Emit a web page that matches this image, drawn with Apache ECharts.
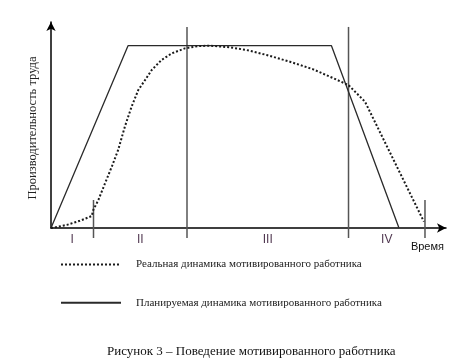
<!DOCTYPE html>
<html><head><meta charset="utf-8">
<script src="https://cdn.jsdelivr.net/npm/echarts@6/dist/echarts.min.js"></script>
<style>html,body{margin:0;padding:0;background:#fff}#c{width:464px;height:363px}</style>
</head><body><div id="c"></div>
<script>
// Planned dynamics (time, productivity)
var plannedX = [0, 19.5, 71.0, 88.1];
var plannedY = [0, 88.5, 88.5, 0];
// Real dynamics (time, productivity)
var realX = [0, 0.6, 4.0, 7.3, 10.3, 10.7, 12.0, 13.7, 15.4, 17.0, 18.7, 20.4, 22.1, 23.8, 25.5, 28.0, 30.6, 33.9, 37.2, 40.3, 45.3, 49.5, 54.6, 60.5, 66.4, 71.5, 75.3, 79.5, 94.4];
var realY = [0, 0.15, 1.5, 3.5, 5.8, 8.7, 13.6, 21.8, 29.8, 37.9, 49.2, 58.9, 67.0, 71.8, 76.7, 81.6, 84.8, 87.2, 88.3, 88.5, 87.7, 86.4, 84.0, 80.7, 77.0, 72.7, 69.4, 61.3, 3.1];
// Phase boundaries
var boundaryX = [10.76, 34.43, 75.32, 94.68];
var boundaryTop = [13.6, 97.6, 97.6, 13.6];
var boundaryBottom = -4.85;
var phaseLabels = ['I', 'II', 'III', 'IV'];
var seriesNames = ['Реальная динамика мотивированного работника', 'Планируемая динамика мотивированного работника'];
var yAxisName = 'Производительность труда';
var xAxisName = 'Время';
var caption = 'Рисунок 3 – Поведение мотивированного работника';

function zip(a, b) { return a.map(function (v, i) { return [v, b[i]]; }); }

var edges = [0].concat(boundaryX);
var labelData = phaseLabels.map(function (t, i) {
  return { value: [(edges[i] + edges[i + 1]) / 2, -5.8], name: t };
});

var series = [
  {
    name: seriesNames[0], type: 'line', data: zip(realX, realY), showSymbol: false, symbol: 'none',
    itemStyle: { color: '#1a1a1a' },
    lineStyle: { color: '#1a1a1a', width: 2, type: [2, 2] }, clip: false, silent: true, z: 3
  },
  {
    name: seriesNames[1], type: 'line', data: zip(plannedX, plannedY), showSymbol: false, symbol: 'none',
    itemStyle: { color: '#2a2a2a' },
    lineStyle: { color: '#2a2a2a', width: 1.3 }, clip: false, silent: true, z: 2
  }
];
boundaryX.forEach(function (x, i) {
  series.push({
    name: 'b' + i, type: 'line', data: [[x, boundaryBottom], [x, boundaryTop[i]]], showSymbol: false, symbol: 'none',
    lineStyle: { color: '#555', width: 1.5 }, clip: false, silent: true, z: 1
  });
});
series.push({
  name: 'phases', type: 'scatter', data: labelData, symbolSize: 1, clip: false, silent: true,
  itemStyle: { color: 'transparent' },
  label: { show: true, position: 'inside', formatter: '{b}', fontFamily: 'Liberation Sans', fontSize: 12, color: '#200020' }
});

var chart = echarts.init(document.getElementById('c'), null, { renderer: 'canvas' });
chart.setOption({
  animation: false,
  backgroundColor: '#fff',
  grid: { left: 51, right: 18, top: 22, bottom: 135 },
  title: {
    text: caption, left: 107, top: 345, padding: 0,
    textStyle: { fontFamily: 'Liberation Serif', fontSize: 13, fontWeight: 'normal', color: '#111' }
  },
  legend: {
    data: seriesNames,
    orient: 'vertical', left: 60, top: 259, padding: 0, itemGap: 27, itemWidth: 60, itemHeight: 14,
    selectedMode: false,
    itemStyle: { opacity: 0, borderWidth: 0 },
    textStyle: { fontFamily: 'Liberation Serif', fontSize: 11, color: '#222', padding: [0, 0, 0, 10] }
  },
  xAxis: {
    type: 'value', min: 0, max: 100,
    name: xAxisName, nameLocation: 'end', nameGap: -2,
    nameTextStyle: { fontFamily: 'Liberation Sans', fontSize: 11, color: '#111', align: 'right', verticalAlign: 'top', padding: [13, 0, 0, 0] },
    axisLine: { show: true, onZero: false, symbol: ['none', 'arrow'], symbolSize: [7, 9], lineStyle: { color: '#000', width: 1.5 } },
    axisTick: { show: false }, axisLabel: { show: false }, splitLine: { show: false }
  },
  yAxis: {
    type: 'value', min: 0, max: 100,
    name: yAxisName, nameLocation: 'middle', nameGap: 12, nameRotate: 90,
    nameTextStyle: { fontFamily: 'Liberation Serif', fontSize: 12.5, color: '#222', padding: [0, 6, 0, 0] },
    axisLine: { show: true, onZero: false, symbol: ['none', 'arrow'], symbolSize: [7, 9], lineStyle: { color: '#000', width: 1.5 } },
    axisTick: { show: false }, axisLabel: { show: false }, splitLine: { show: false }
  },
  series: series
});
</script></body></html>
